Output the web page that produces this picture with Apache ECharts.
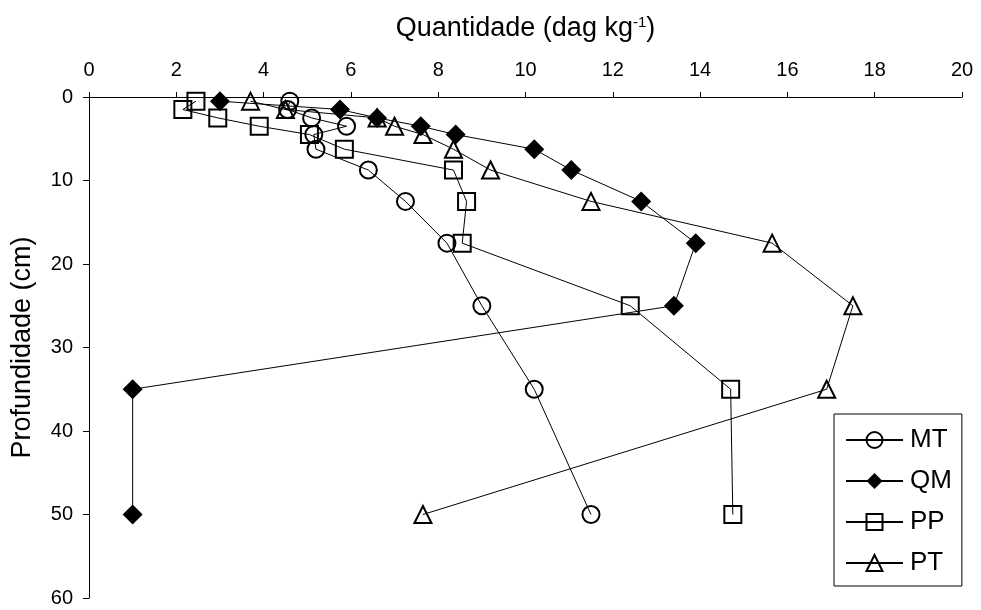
<!DOCTYPE html>
<html>
<head>
<meta charset="utf-8">
<script src="https://cdn.jsdelivr.net/npm/echarts@6/dist/echarts.min.js"></script>
<style>
  html, body { margin: 0; padding: 0; background: #fff; }
  #chart { width: 981px; height: 610px; }
</style>
</head>
<body>
<div id="chart"></div>
<script>
// Sampling depths (cm), shared by every profile
var depths = [0.5, 1.5, 2.5, 3.5, 4.5, 6.25, 8.75, 12.5, 17.5, 25, 35, 50];

// Amount at each depth (dag kg-1)
var valuesMT = [4.6, 4.55, 5.1, 5.9, 5.15, 5.2, 6.4, 7.25, 8.2, 9.0, 10.2, 11.5];
var valuesQM = [3.0, 5.75, 6.6, 7.6, 8.4, 10.2, 11.05, 12.65, 13.9, 13.4, 1.0, 1.0];
var valuesPP = [2.45, 2.15, 2.95, 3.9, 5.05, 5.85, 8.35, 8.65, 8.55, 12.4, 14.7, 14.75];
var valuesPT = [3.7, 4.5, 6.6, 7.0, 7.65, 8.35, 9.2, 11.5, 15.65, 17.5, 16.9, 7.65];

var xTicks = { min: 0, max: 20, step: 2 };
var yTicks = { min: 0, max: 60, step: 10 };

var FONT = 'Liberation Sans, Arial, sans-serif';

function pairs(vals) {
  return vals.map(function (v, i) { return [v, depths[i]]; });
}

function profile(name, vals, symbol, size, filled) {
  return {
    name: name,
    type: 'line',
    data: pairs(vals),
    symbol: symbol,
    symbolSize: size,
    showAllSymbol: true,
    clip: false,
    lineStyle: { color: '#000', width: 1 },
    itemStyle: {
      color: filled ? '#000' : 'rgba(0,0,0,0)',
      borderColor: '#000',
      borderWidth: filled ? 0 : 2
    },
    emphasis: { disabled: true },
    animation: false
  };
}

var chart = echarts.init(document.getElementById('chart'), null, { renderer: 'canvas' });

chart.setOption({
  backgroundColor: '#fff',
  animation: false,
  grid: { left: 89, right: 19, top: 97, bottom: 12, containLabel: false },
  xAxis: {
    type: 'value',
    position: 'top',
    min: xTicks.min,
    max: xTicks.max,
    interval: xTicks.step,
    name: 'Quantidade (dag kg{sup|-1})',
    nameLocation: 'middle',
    nameGap: 54,
    nameTextStyle: {
      fontFamily: FONT, fontSize: 27, color: '#000',
      rich: { sup: { fontFamily: FONT, fontSize: 15, color: '#000', verticalAlign: 'top', padding: [0, 0, 13, 0] } }
    },
    axisLine: { show: true, lineStyle: { color: '#000', width: 1 } },
    axisTick: { show: true, inside: false, length: 5, lineStyle: { color: '#000' } },
    axisLabel: { fontFamily: FONT, fontSize: 20, color: '#000', margin: 17 },
    splitLine: { show: false }
  },
  yAxis: {
    type: 'value',
    inverse: true,
    min: yTicks.min,
    max: yTicks.max,
    interval: yTicks.step,
    name: 'Profundidade (cm)',
    nameLocation: 'middle',
    nameGap: 53,
    nameRotate: 90,
    nameTextStyle: { fontFamily: FONT, fontSize: 27, color: '#000' },
    axisLine: { show: true, lineStyle: { color: '#000', width: 1 } },
    axisTick: { show: true, inside: false, length: 6, lineStyle: { color: '#000' } },
    axisLabel: { fontFamily: FONT, fontSize: 20, color: '#000', margin: 16 },
    splitLine: { show: false }
  },
  legend: {
    orient: 'vertical',
    left: 834,
    top: 414,
    padding: [13, 10, 10, 11],
    itemGap: 15,
    itemWidth: 57,
    itemHeight: 20,
    borderColor: '#000',
    borderWidth: 1,
    borderRadius: 0,
    backgroundColor: '#fff',
    textStyle: { fontFamily: FONT, fontSize: 26, color: '#000', padding: [0, 0, 0, 2] },
    selectedMode: false,
    data: ['MT', 'QM', 'PP', 'PT']
  },
  series: [
    profile('MT', valuesMT, 'circle', 17, false),
    profile('QM', valuesQM, 'diamond', 20, true),
    profile('PP', valuesPP, 'rect', 17, false),
    profile('PT', valuesPT, 'triangle', 17, false)
  ]
});
</script>
</body>
</html>
